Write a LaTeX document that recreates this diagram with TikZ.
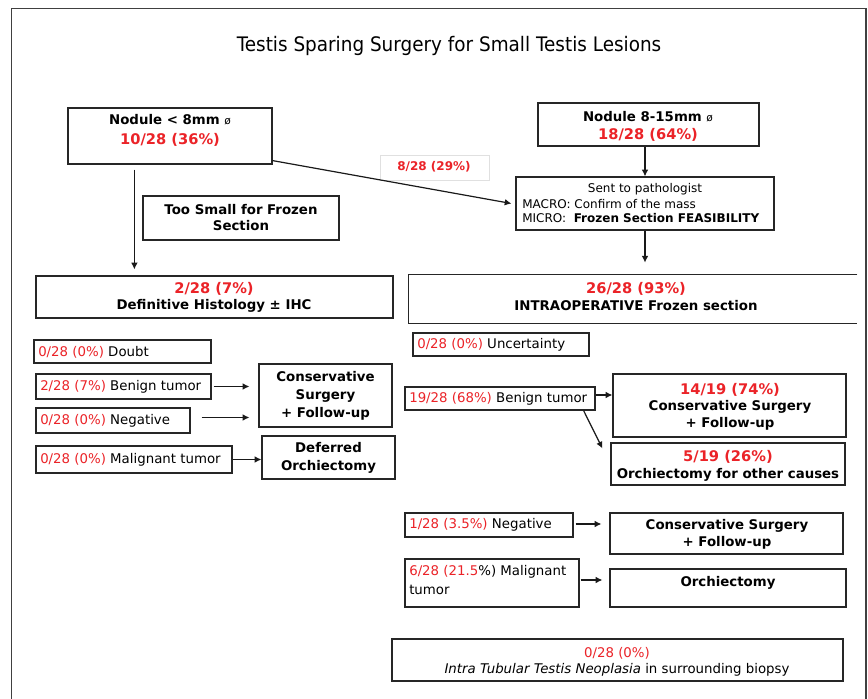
\documentclass[tikz,border=0pt]{standalone}
\usepackage{fontspec}
\setmainfont{DejaVu Sans}
\newfontfamily\titlefont[FakeStretch=0.92]{DejaVu Sans}
\usetikzlibrary{arrows.meta,fit,calc}
\definecolor{rd}{RGB}{235,35,40}
\begin{document}
\begin{tikzpicture}[x=0.75pt,y=-0.75pt,
  box/.style={draw=black!85, line width=0.9pt, inner sep=0pt, fill=white},
  txt/.style={inner sep=0pt, font=\fontsize{10}{12}\selectfont},
  bt/.style={txt, font=\fontsize{10}{12}\selectfont\bfseries},
  rt/.style={inner sep=0pt, text=rd, font=\fontsize{11}{13}\selectfont\bfseries},
  st/.style={inner sep=0pt, font=\fontsize{9}{11}\selectfont},
  lt/.style={txt, anchor=west},
  arr/.style={-{Latex[length=5pt,width=5pt]}, line width=0.9pt, black!90},
]
\useasboundingbox (0,0) rectangle (868,699);
\draw[line width=1.1pt, black!75] (11.5,699) -- (11.5,8.5) -- (866,8.5) -- (866,699);

\node[inner sep=0pt, font=\titlefont\fontsize{15}{17}\selectfont] (title) at (449,46) {Testis Sparing Surgery for Small Testis Lesions};

% top boxes
\node[box, fit={(68,108)(272,164)}] (a) {};
\node[bt] (a1) at (170,120) {Nodule < 8mm {\mdseries\fontsize{8}{9}\selectfont ø}};
\node[rt] (a2) at (170,140) {10/28 (36\%)};

\node[box, fit={(538,103)(759,146)}] (b) {};
\node[bt] (b1) at (648,117) {Nodule 8-15mm {\mdseries\fontsize{8}{9}\selectfont ø}};
\node[rt] (b2) at (648,135) {18/28 (64\%)};

\node[box, fit={(516,177)(774,230)}] (p) {};
\node[st] (p1) at (645,189) {Sent to pathologist};
\node[st, anchor=west] (p2) at (522,204) {MACRO: Confirm of the mass};
\node[st, anchor=west] (p3) at (522,218) {MICRO:\ \ \textbf{Frozen Section FEASIBILITY}};

\node[box, fit={(143,196)(339,240)}] (t) {};
\node[bt] (t1) at (241,210) {Too Small for Frozen};
\node[bt] (t2) at (241,226) {Section};

\node[draw=black!12, line width=0.6pt, fill=white, inner sep=0pt, fit={(380,155)(489,180)}] (lab) {};
\node[inner sep=0pt, text=rd, font=\fontsize{9}{11}\selectfont\bfseries] (lab1) at (434,167) {8/28 (29\%)};

% second level
\node[box, fit={(36,276)(393,318)}] (d) {};
\node[rt] (d1) at (214,289) {2/28 (7\%)};
\node[bt] (d2) at (214,306) {Definitive Histology ± IHC};

\node[inner sep=0pt, fit={(409,275)(857,323)}] (f) {};
\draw[line width=0.9pt, black!85] (f.north east) -- (f.north west) -- (f.south west) -- (f.south east);
\node[rt] (f1) at (636,289) {26/28 (93\%)};
\node[bt] (f2) at (636,306) {INTRAOPERATIVE Frozen section};

% connectors top
\draw[arr] ($(a.south west)+(67,5)$) -- ($(d.north west)+(99,-6)$);
\draw[arr] (b.south -| p.north) -- (p.north);
\draw[arr] (p.south) -- ($(p.south)+(0,32)$);
\draw[arr] ($(a.south east)+(0,-4)$) -- ($(p.west)+(-4,0)$);

% left items
\node[box, fit={(34,340)(211,363)}] (doubt) {};
\node[lt] (doubt1) at (38,352) {{\color{rd}0/28 (0\%)} Doubt};
\node[box, fit={(36,374)(211,399)}] (benl) {};
\node[lt] (benl1) at (40,386.5) {{\color{rd}2/28 (7\%)} Benign tumor};
\node[box, fit={(36,408)(190,433)}] (negl) {};
\node[lt] (negl1) at (40,420.5) {{\color{rd}0/28 (0\%)} Negative};
\node[box, fit={(36,446)(232,473)}] (mall) {};
\node[lt] (mall1) at (40,459.5) {{\color{rd}0/28 (0\%)} Malignant tumor};

\node[box, fit={(259,364)(392,427)}] (consl) {};
\node[bt] (consl1) at (325.5,377) {Conservative};
\node[bt] (consl2) at (325.5,396) {Surgery};
\node[bt] (consl3) at (325.5,414) {+ Follow-up};
\node[box, fit={(262,436)(395,479)}] (defl) {};
\node[bt] (defl1) at (328.5,448) {Deferred};
\node[bt] (defl2) at (328.5,467) {Orchiectomy};

\draw[arr] ($(benl.east)+(2,0)$) -- ($(benl.east -| consl.west)+(-9,0)$);
\draw[arr] ($(negl.east)+(11,-3)$) -- ($(negl.east -| consl.west)+(-9,-3)$);
\draw[arr] (mall.east) -- (mall.east -| defl.west);

% right items
\node[box, fit={(413,333)(589,356)}] (unc) {};
\node[lt] (unc1) at (417,345) {{\color{rd}0/28 (0\%)} Uncertainty};
\node[box, fit={(405,387)(595,410)}] (benr) {};
\node[lt] (benr1) at (409,398.5) {{\color{rd}19/28 (68\%)} Benign tumor};

\node[box, fit={(613,374)(846,437)}] (consr) {};
\node[rt] (consr1) at (730,390) {14/19 (74\%)};
\node[bt] (consr2) at (730,407) {Conservative Surgery};
\node[bt] (consr3) at (730,424) {+ Follow-up};

\node[box, fit={(611,443)(845,485)}] (orr) {};
\node[rt] (orr1) at (728,457) {5/19 (26\%)};
\node[bt] (orr2) at (728,475) {Orchiectomy for other causes};

\draw[arr] ($(benr.east)+(0,-3.5)$) -- ($(benr.east -| consr.west)+(0,-3.5)$);
\draw[arr] ($(benr.south east)+(-12,0)$) -- ($(orr.north west)+(-8,6)$);

\node[box, fit={(405,513)(573,537)}] (negr) {};
\node[lt] (negr1) at (409,525) {{\color{rd}1/28 (3.5\%)} Negative};
\node[box, fit={(610,513)(843,554)}] (consr2b) {};
\node[bt] (cb1) at (727,526) {Conservative Surgery};
\node[bt] (cb2) at (727,543) {+ Follow-up};
\draw[arr] ($(negr.east)+(2,-1)$) -- ($(negr.east -| consr2b.west)+(-8,-1)$);

\node[box, fit={(405,559)(579,607)}] (malr) {};
\node[lt] (malr1) at (409,572) {{\color{rd}6/28 (21.5}\%) Malignant};
\node[lt] (malr2) at (409,590) {tumor};
\node[box, fit={(610,569)(846,607)}] (orch) {};
\node[bt] (orch1) at (728,583) {Orchiectomy};
\draw[arr] ($(malr.east)+(1,-3)$) -- ($(malr.east -| orch.west)+(-7,-3)$);

\node[box, fit={(392,639)(843,681)}] (itn) {};
\node[txt, text=rd] (itn1) at (617,653) {0/28 (0\%)};
\node[txt] (itn2) at (617,670) {\textit{Intra Tubular Testis Neoplasia} in surrounding biopsy};
\end{tikzpicture}
\end{document}
